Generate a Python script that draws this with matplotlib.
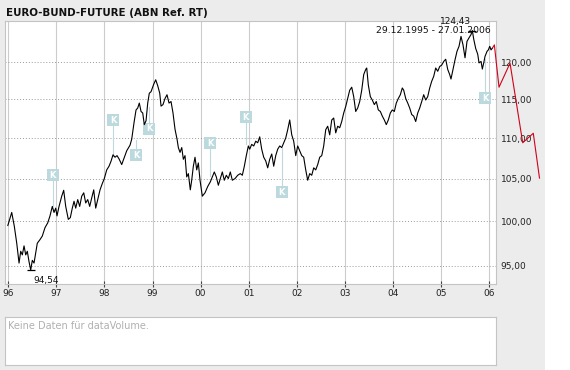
import matplotlib
matplotlib.use("Agg")
import matplotlib.pyplot as plt
from matplotlib.patches import Rectangle
from matplotlib.ticker import FixedLocator, NullLocator

# ---------------- data ----------------
dates = [
    1995.990, 1996.071, 1996.125, 1996.175, 1996.223, 1996.258, 1996.291, 1996.327, 1996.362, 1996.395,
    1996.431, 1996.466, 1996.499, 1996.535, 1996.570, 1996.603, 1996.659, 1996.707, 1996.763, 1996.820,
    1996.867, 1996.915, 1996.951, 1996.986, 1997.013, 1997.055, 1997.111, 1997.152, 1997.194, 1997.248,
    1997.290, 1997.331, 1997.367, 1997.402, 1997.444, 1997.485, 1997.527, 1997.569, 1997.610, 1997.652,
    1997.693, 1997.735, 1997.777, 1997.818, 1997.860, 1997.908, 1997.955, 1997.997, 1998.047, 1998.095,
    1998.136, 1998.178, 1998.220, 1998.261, 1998.303, 1998.359, 1998.413, 1998.463, 1998.532,
    1998.567, 1998.615, 1998.657, 1998.692, 1998.725, 1998.761, 1998.796, 1998.829, 1998.865, 1998.900,
    1998.933, 1998.969, 1999.025, 1999.066, 1999.108, 1999.150, 1999.177, 1999.218, 1999.260, 1999.301,
    1999.343, 1999.385, 1999.426, 1999.468, 1999.510, 1999.537, 1999.572, 1999.608, 1999.641, 1999.676,
    1999.711, 1999.745, 1999.786, 1999.815, 1999.849, 1999.884, 1999.919, 1999.953, 1999.988, 2000.036,
    2000.092, 2000.148, 2000.202, 2000.244, 2000.285, 2000.327, 2000.369, 2000.410, 2000.452, 2000.493,
    2000.535, 2000.577, 2000.618, 2000.660, 2000.716, 2000.772, 2000.826, 2000.868, 2000.910, 2000.951,
    2000.993,
    2001.022, 2001.063, 2001.105, 2001.147, 2001.188, 2001.230, 2001.271, 2001.313, 2001.355, 2001.396,
    2001.438, 2001.480, 2001.521, 2001.563, 2001.604, 2001.646, 2001.688, 2001.729, 2001.771, 2001.812,
    2001.854, 2001.896, 2001.937, 2001.979, 2002.020, 2002.062, 2002.104, 2002.145, 2002.187, 2002.228,
    2002.270, 2002.312, 2002.353, 2002.395, 2002.436, 2002.478, 2002.520, 2002.561, 2002.603, 2002.644,
    2002.686, 2002.728, 2002.769, 2002.811, 2002.852, 2002.894, 2002.936, 2002.977, 2003.019, 2003.060,
    2003.102, 2003.144, 2003.185, 2003.227, 2003.268, 2003.310, 2003.352, 2003.393, 2003.435, 2003.456,
    2003.489, 2003.531, 2003.572, 2003.614, 2003.655, 2003.697, 2003.739, 2003.780, 2003.822, 2003.863,
    2003.905, 2003.947, 2003.988, 2004.030, 2004.071, 2004.113, 2004.155, 2004.196, 2004.225, 2004.267,
    2004.309, 2004.350, 2004.392, 2004.433, 2004.475, 2004.517, 2004.558, 2004.600, 2004.641, 2004.683,
    2004.725, 2004.766, 2004.808, 2004.849, 2004.891, 2004.933, 2004.974, 2005.016, 2005.058, 2005.099,
    2005.141, 2005.182, 2005.209, 2005.251, 2005.292, 2005.334, 2005.376, 2005.417, 2005.459, 2005.501,
    2005.542, 2005.584, 2005.625, 2005.653, 2005.682, 2005.723, 2005.765, 2005.792, 2005.834, 2005.861,
    2005.890, 2005.917, 2005.959, 2005.986, 2006.015, 2006.042, 2006.071,
]
prices = [
    99.5, 101.0, 99.4, 97.5, 95.3, 96.6, 96.2, 97.2, 96.2, 96.6,
    95.45, 94.54, 95.6, 95.3, 96.4, 97.5, 97.9, 98.3, 99.25, 99.8,
    100.6, 101.7, 101.0, 101.5, 100.6, 101.7, 102.9, 103.6, 101.7, 100.2,
    100.4, 101.5, 102.3, 101.5, 102.5, 101.7, 102.9, 103.3, 102.1, 102.5,
    101.7, 102.7, 103.65, 101.5, 102.5, 103.65, 104.4, 105.0, 106.05, 106.5,
    107.1, 107.9, 107.6, 107.8, 107.4, 106.7, 107.6, 108.4, 109.1,
    109.85, 111.95, 113.6, 113.85, 114.5, 113.4, 113.2, 111.7, 112.2, 114.5,
    115.8, 116.0, 117.0, 117.6, 116.8, 115.8, 114.1, 114.3, 115.1, 115.6,
    114.5, 114.7, 113.2, 111.1, 109.85, 108.8, 108.2, 108.8, 107.35, 107.8,
    105.2, 105.6, 103.65, 104.8, 106.5, 107.6, 106.05, 106.9, 104.8, 102.9,
    103.3, 104.05, 104.6, 105.2, 105.8, 105.2, 104.2, 105.0, 105.8, 104.8,
    105.4, 105.0, 105.8, 104.8, 105.0, 105.4, 105.6, 105.4, 106.5, 107.8,
    109.0,
    108.6, 109.2, 109.0, 109.6, 109.4, 110.15, 108.6, 107.6, 107.15, 106.3,
    107.35, 108.0, 106.5, 107.8, 108.6, 109.0, 108.8, 109.4, 110.0, 111.05,
    112.3, 110.4, 109.6, 107.8, 109.0, 108.4, 107.8, 107.6, 106.05, 104.8,
    105.6, 105.4, 106.3, 106.05, 106.7, 107.6, 107.8, 109.0, 111.05, 111.5,
    110.4, 112.3, 112.55, 110.65, 111.5, 111.3, 112.1, 113.2, 114.05, 115.1,
    116.2, 116.6, 115.35, 113.4, 113.85, 114.7, 116.2, 118.3, 119.0, 119.2,
    116.9, 115.35, 114.9, 114.3, 114.7, 113.6, 113.4, 112.8, 112.3, 111.7,
    112.3, 113.2, 113.6, 113.4, 114.5, 115.1, 115.6, 116.5, 116.2, 115.1,
    114.5, 113.85, 113.0, 112.8, 112.1, 113.2, 113.85, 114.7, 115.6, 114.9,
    115.35, 116.5, 117.4, 118.05, 119.2, 118.75, 119.4, 119.6, 120.1, 120.4,
    119.0, 118.3, 117.7, 119.0, 120.3, 121.5, 122.2, 123.6, 122.4, 120.6,
    122.9, 123.4, 123.85, 124.43, 123.2, 121.9, 121.1, 119.9, 120.1, 119.05,
    119.9, 120.8, 121.5, 121.7, 122.2, 121.7, 121.95,
]

# red overlay line (drawn beyond the plot frame)
red_dates = [2006.071, 2006.111, 2006.208, 2006.437, 2006.701, 2006.921, 2007.050]
red_prices = [121.95, 122.4, 116.6, 119.86, 109.4, 110.6, 105.06]

# "K" event markers: date, box level, price level reached by the connector
k_dates = [1996.924, 1998.178, 1998.657, 1998.933, 2000.196, 2000.939, 2001.688, 2005.917]
k_box_prices = [105.42, 112.25, 107.85, 111.2, 109.33, 112.67, 103.34, 115.14]
k_line_prices = [101.7, 107.8, 109.8, 114.0, 105.3, 109.2, 108.8, 120.5]

year_ticks = [1996, 1997, 1998, 1999, 2000, 2001, 2002, 2003, 2004, 2005, 2006]
year_labels = ["96", "97", "98", "99", "00", "01", "02", "03", "04", "05", "06"]
price_ticks = [95, 100, 105, 110, 115, 120]
price_labels = ["95,00", "100,00", "105,00", "110,00", "115,00", "120,00"]

title = "EURO-BUND-FUTURE (ABN Ref. RT)"
range_text = "29.12.1995 - 27.01.2006"
min_label = "94,54"
max_label = "124,43"
volume_text = "Keine Daten für dataVolume."

# ---------------- figure ----------------
W, H = 570, 370
fig = plt.figure(figsize=(W / 100, H / 100), dpi=100)
fig.patch.set_facecolor("#ececec")
fig.patches.append(Rectangle((545 / W, 0), 25 / W, 1, transform=fig.transFigure,
                             facecolor="white", edgecolor="none", zorder=0))

fig.text(6 / W, 1 - 12.5 / H, title, fontsize=7.4, fontweight="bold",
         ha="left", va="center", color="#111111")

ax = fig.add_axes([5 / W, 1 - 284 / H, 490.7 / W, 263 / H])
ax.set_facecolor("white")
ax.set_yscale("log")
ax.set_xlim(1995.931, 2006.139)
ax.set_ylim(93.04, 125.8)

ax.xaxis.set_major_locator(FixedLocator(year_ticks))
ax.set_xticklabels(year_labels)
ax.yaxis.set_major_locator(FixedLocator(price_ticks))
ax.yaxis.set_minor_locator(NullLocator())
ax.set_yticklabels(price_labels)
ax.yaxis.tick_right()

ax.tick_params(axis="x", direction="inout", length=4, width=0.8, color="#444444",
               labelsize=6.5, pad=1.5, labelcolor="#222222")
ax.tick_params(axis="y", length=0, labelsize=6.5, pad=3.6, labelcolor="#222222")
ax.tick_params(axis="y", which="minor", length=0)

for s in ax.spines.values():
    s.set_color("#c4c4c4")
    s.set_linewidth(0.8)

ax.grid(axis="x", color="#cccccc", linewidth=0.8, linestyle="-")
ax.grid(axis="y", color="#9a9a9a", linewidth=0.7, linestyle=(0, (1, 2)))
ax.set_axisbelow(True)

# K markers
for d, bp, lp in zip(k_dates, k_box_prices, k_line_prices):
    ax.plot([d, d], [bp, lp], color="#c0d8dc", linewidth=0.8, zorder=1.5)
    ax.plot([d], [bp], marker="s", markersize=8.6, color="#bcdadd",
            markeredgewidth=0, zorder=1.6, linestyle="none")
    ax.text(d, bp, "K", color="white", fontsize=6, fontweight="bold",
            ha="center", va="center", zorder=1.7)

# price line
ax.plot(dates, prices, color="black", linewidth=0.8, zorder=3)
ax.plot(red_dates, red_prices, color="#d0021b", linewidth=0.8, zorder=3, clip_on=False)

# min / max
i_min = prices.index(min(prices))
i_max = prices.index(max(prices))
ax.plot([dates[i_min]], [prices[i_min]], marker="_", markersize=6, color="black",
        markeredgewidth=0.9, zorder=4)
ax.plot([dates[i_max]], [prices[i_max]], marker="_", markersize=6, color="black",
        markeredgewidth=0.9, zorder=4)
ax.annotate(min_label, (dates[i_min], prices[i_min]), xytext=(3, -10.5),
            textcoords="offset pixels", ha="left", va="center", fontsize=6.5, color="#111111")
ax.annotate(max_label, (dates[i_max], prices[i_max]), xytext=(-1, 9),
            textcoords="offset pixels", ha="right", va="center", fontsize=6.5,
            color="#111111", annotation_clip=False)
ax.text((491 - 5) / 490.7, (284 - 30.5) / 263, range_text, transform=ax.transAxes,
        ha="right", va="center", fontsize=6.7, color="#111111")

# volume panel
ax2 = fig.add_axes([5 / W, 1 - 365 / H, 491 / W, 48 / H])
ax2.set_facecolor("white")
ax2.set_xticks([])
ax2.set_yticks([])
for s in ax2.spines.values():
    s.set_color("#c4c4c4")
    s.set_linewidth(0.8)
ax2.text(3.3 / 491, 1 - 9 / 48, volume_text, transform=ax2.transAxes,
         ha="left", va="center", fontsize=7, color="#b0b0b0")

fig.savefig("out.png", dpi=100, facecolor=fig.get_facecolor())
